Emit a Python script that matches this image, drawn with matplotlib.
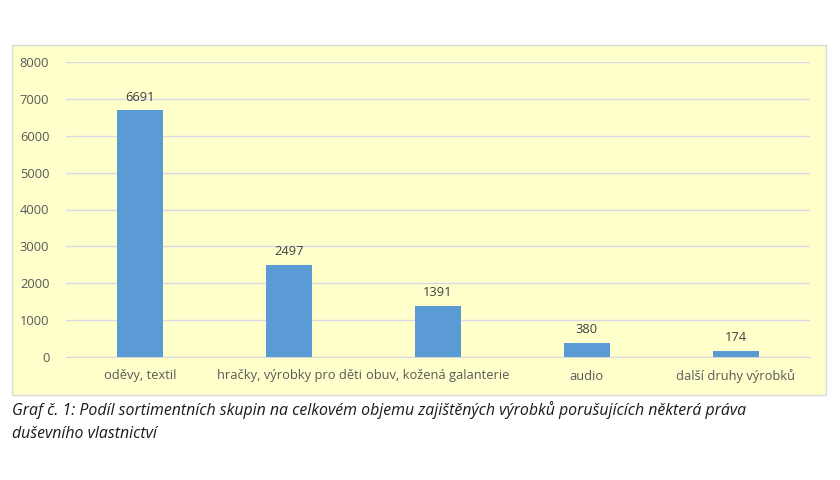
import matplotlib.pyplot as plt
from matplotlib.patches import Rectangle

categories = ['oděvy, textil', 'hračky, výrobky pro děti', 'obuv, kožená galanterie',
              'audio', 'další druhy výrobků']
values = [6691, 2497, 1391, 380, 174]
yticks = [0, 1000, 2000, 3000, 4000, 5000, 6000, 7000, 8000]
caption = ('Graf č. 1: Podíl sortimentních skupin na celkovém objemu zajištěných výrobků '
           'porušujících některá práva\nduševního vlastnictví')

plt.rcParams['font.family'] = ['Open Sans', 'DejaVu Sans']

fig = plt.figure(figsize=(8.4, 4.8), dpi=100)
fig.patch.set_facecolor('white')

# yellow chart area, behind the axes
panel = Rectangle((12 / 840, 1 - 395 / 480), 814 / 840, 350 / 480,
                  transform=fig.transFigure, facecolor='#FFFFCC',
                  edgecolor='#D9D9D9', linewidth=1, zorder=-5)
fig.patches.append(panel)

ax = fig.add_axes([66 / 840, 1 - 357 / 480, 744 / 840, 295 / 480])
ax.set_facecolor('none')
ax.set_zorder(2)

x = range(len(categories))
bars = ax.bar(x, values, width=0.31, color='#5B9BD5', zorder=3)
for b, v in zip(bars, values):
    ax.text(b.get_x() + b.get_width() / 2, v + 180, str(v), ha='center', va='bottom',
            fontsize=9.3, color='#404040')

ax.set_xlim(-0.5, len(categories) - 0.5)
ax.set_ylim(0, 8000)
ax.set_yticks(yticks)
ax.set_xticks(list(x))
ax.set_xticklabels(categories)
ax.tick_params(axis='both', length=0, labelsize=9.3, colors='#595959')
ax.tick_params(axis='y', pad=12)
ax.tick_params(axis='x', pad=9)
ax.grid(axis='y', color='#D9D9E6', linewidth=1, zorder=0)
for s in ['top', 'right', 'left']:
    ax.spines[s].set_visible(False)
ax.spines['bottom'].set_color('#D9D9D9')

fig.text(12 / 840, 1 - 401 / 480, caption, ha='left', va='top', fontsize=11.4,
         style='italic', color='#1A1A1A', linespacing=1.6)

fig.savefig('out.png', dpi=100)
